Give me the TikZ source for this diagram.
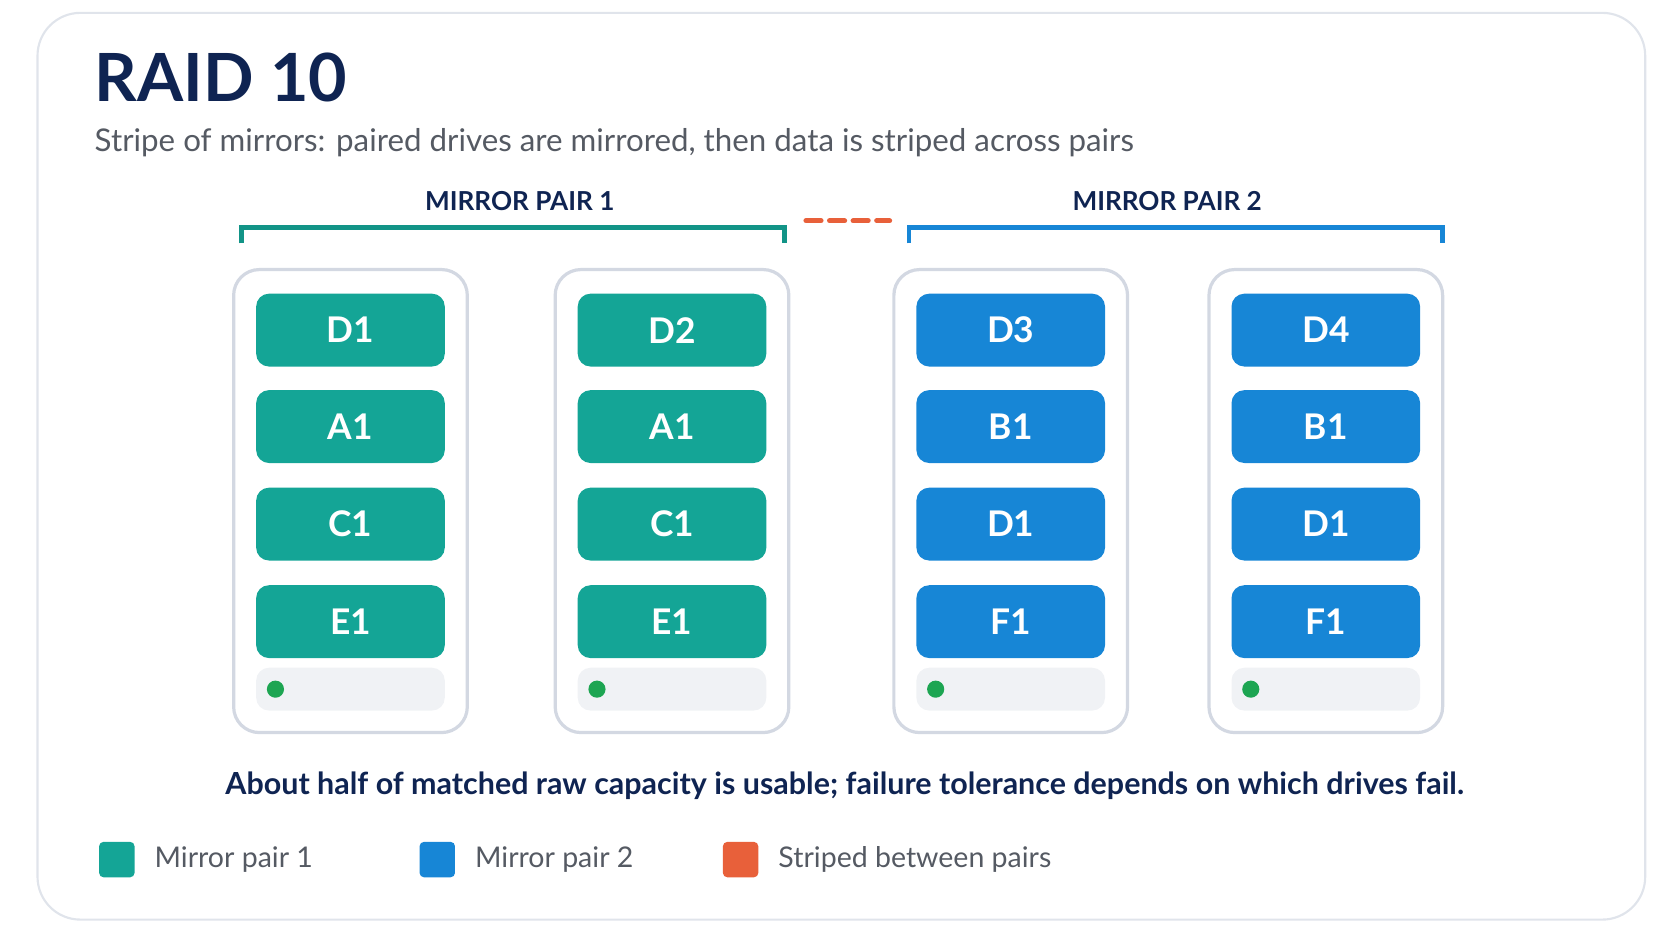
\documentclass[tikz,border=0pt]{standalone}
\usepackage{fontspec}
\setmainfont{Lato}
\usetikzlibrary{positioning}
\definecolor{navy}{HTML}{0F2452}
\definecolor{subgray}{HTML}{555A63}
\definecolor{teal}{HTML}{14A596}
\definecolor{bluec}{HTML}{1786D6}
\definecolor{orng}{HTML}{E8603A}
\definecolor{casegray}{HTML}{D3D8E2}
\definecolor{barfill}{HTML}{F0F2F5}
\definecolor{ledgreen}{HTML}{1DA552}
\tikzset{
  case/.style={draw=casegray,line width=1.5pt,rounded corners=12pt,minimum width=109pt,minimum height=216pt,inner sep=0pt},
  blk/.style={rounded corners=6pt,minimum width=88pt,minimum height=34pt,text=white,font=\fontsize{16.5}{16.5}\selectfont\bfseries,inner sep=0pt},
  bar/.style={fill=barfill,rounded corners=6pt,minimum width=88pt,minimum height=20pt,inner sep=0pt},
  led/.style={circle,fill=ledgreen,minimum size=8pt,inner sep=0pt},
  head/.style={font=\fontsize{12.2}{12.2}\selectfont\bfseries,text=navy},
  swatch/.style={rounded corners=2pt,minimum size=16.5pt,inner sep=0pt},
  legtxt/.style={font=\fontsize{13.3}{13.3}\selectfont,text=subgray,anchor=west,inner sep=0pt}
}
\begin{document}
\begin{tikzpicture}[x=0.5pt,y=-0.5pt]
  \useasboundingbox (0,0) rectangle (1560,878);
  \draw[casegray!70,line width=1pt,rounded corners=20pt] (35,12) rectangle (1535,858);
  % title
  \node[anchor=base west,inner sep=0pt,text=navy,font=\fontsize{31}{31}\selectfont\bfseries] (title) at (88,95) {RAID 10};
  \node[anchor=base west,inner sep=0pt,text=subgray,font=\fontsize{14.6}{14.6}\selectfont] (sub) at (88,141) {Stripe of mirrors: paired drives are mirrored, then data is striped across pairs};
  % pair headers
  \node[head] (hp1) at (485,188) {MIRROR PAIR 1};
  \node[head] (hp2) at (1089,188) {MIRROR PAIR 2};
  \coordinate (b1l) at (225,227); \coordinate (b1r) at (732,227);
  \coordinate (b2l) at (848,227); \coordinate (b2r) at (1346,227);
  \draw[teal!90!black,line width=2.2pt] (b1l) -- ++(0,-15) -| (b1r);
  \draw[bluec,line width=2.2pt] (b2l) -- ++(0,-15) -| (b2r);
  \coordinate (sl) at (752,206); \coordinate (sr) at (830,206);
  \draw[orng,line width=2.4pt,dash pattern=on 7pt off 4pt,line cap=round] (sl) -- (sr);
  % drives
  \foreach \n/\x/\c/\t/\a/\b/\e in {1/327/teal/D1/A1/C1/E1, 2/627/teal/D2/A1/C1/E1,
                                  3/943/bluec/D3/B1/D1/F1, 4/1237/bluec/D4/B1/D1/F1} {
    \node[case] (case\n) at (\x,467.5) {};
    \node[blk,fill=\c] (d\n a) at (\x,308) {\t};
    \node[blk,fill=\c] (d\n b) at (\x,398) {\a};
    \node[blk,fill=\c] (d\n c) at (\x,489) {\b};
    \node[blk,fill=\c] (d\n d) at (\x,580) {\e};
    \node[bar] (bar\n) at (\x,643) {};
    \node[led,right=5pt of bar\n.west] (led\n) {};
  }
  % footer
  \node[inner sep=0pt,text=navy,font=\fontsize{14.2}{14.2}\selectfont\bfseries] (note) at (788,733) {About half of matched raw capacity is usable; failure tolerance depends on which drives fail.};
  % legend
  \node[swatch,fill=teal] (sw1) at (109,802) {};
  \node[legtxt,right=9pt of sw1] (lg1) {Mirror pair 1};
  \node[swatch,fill=bluec] (sw2) at (408,802) {};
  \node[legtxt,right=9pt of sw2] (lg2) {Mirror pair 2};
  \node[swatch,fill=orng] (sw3) at (691,802) {};
  \node[legtxt,right=9pt of sw3] (lg3) {Striped between pairs};
\end{tikzpicture}
\end{document}
